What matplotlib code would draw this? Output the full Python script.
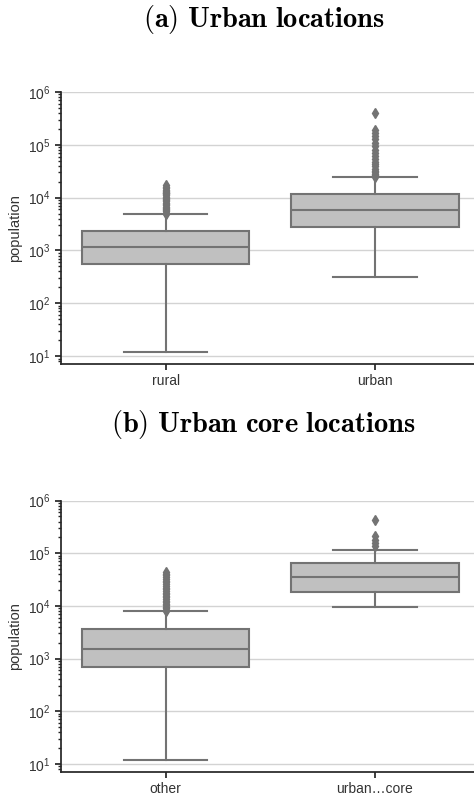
import matplotlib.pyplot as plt

plt.rcParams['font.family'] = ['Liberation Sans', 'DejaVu Sans']
plt.rcParams['mathtext.fontset'] = 'cm'

# summary statistics of population per location class
urban_cats = ['rural', 'urban']
urban_q1 = [560, 2810]
urban_med = [1145, 5820]
urban_q3 = [2330, 11500]
urban_lo = [12, 313]
urban_hi = [4890, 24200]
rural_fliers = [5000, 5200, 5500, 5800, 6100, 6400, 6800, 7200, 7600, 8000,
                8500, 9000, 9500, 10000, 10500, 11000, 11500, 12000, 12500,
                13000, 13500, 14000, 15000, 16000, 17000]
urban_fliers = [25000, 26500, 28000, 30000, 32000, 35000, 39000, 43000, 48000,
                55000, 62000, 70000, 80000, 95000, 110000, 130000, 150000,
                170000, 190000, 400000]

core_cats = ['other', 'urban\u2026core']
core_q1 = [686, 18500]
core_med = [1507, 35600]
core_q3 = [3610, 64800]
core_lo = [11.9, 9700]
core_hi = [7940, 114000]
other_fliers = [8000, 8500, 9000, 9600, 10200, 11000, 11800, 12600, 13500,
                14500, 15500, 16500, 17800, 19000, 20500, 22000, 24000, 26000,
                28000, 30000, 32500, 35000, 38000, 41000, 44000]
core_fliers = [140000, 160000, 180000, 210000, 420000]

fill = '#c0c0c0'
line = '#737373'
ink = '#333333'

fig = plt.figure(figsize=(4.74, 7.99), dpi=100)


def panel(rect, cats, q1, med, q3, lo, hi, fliers):
    ax = fig.add_axes(rect)
    stats = []
    for i in range(len(cats)):
        stats.append(dict(q1=q1[i], med=med[i], q3=q3[i], whislo=lo[i],
                          whishi=hi[i], fliers=fliers[i], label=cats[i]))
    lw = 1.5
    ax.bxp(stats, positions=range(len(cats)), widths=0.8, capwidths=0.4,
           patch_artist=True,
           boxprops=dict(facecolor=fill, edgecolor=line, linewidth=lw),
           medianprops=dict(color=line, linewidth=lw),
           whiskerprops=dict(color=line, linewidth=lw),
           capprops=dict(color=line, linewidth=lw),
           flierprops=dict(marker='d', markersize=5, markerfacecolor=line,
                           markeredgecolor=line))
    ax.set_yscale('log')
    ax.set_ylim(10 ** 0.85, 1e6)
    ax.set_xlim(-0.5, len(cats) - 0.5)
    ax.set_xticks(range(len(cats)))
    ax.set_xticklabels(cats)
    ax.yaxis.grid(True, which='major', color='#d3d3d3', linewidth=1)
    ax.set_axisbelow(True)
    for s in ['top', 'right']:
        ax.spines[s].set_visible(False)
    for s in ['left', 'bottom']:
        ax.spines[s].set_color('#262626')
        ax.spines[s].set_linewidth(1.25)
    ax.tick_params(axis='both', which='major', labelsize=10, colors='#262626',
                   labelcolor=ink, length=4, width=1.25)
    ax.tick_params(axis='y', which='minor', colors='#262626', length=2.5,
                   width=1)
    ax.set_ylabel('population', fontsize=10.5, color=ink, labelpad=4)
    return ax


panel([0.1287, 0.5444, 0.883, 0.3404], urban_cats, urban_q1, urban_med,
      urban_q3, urban_lo, urban_hi, [rural_fliers, urban_fliers])
panel([0.1287, 0.0342, 0.883, 0.3392], core_cats, core_q1, core_med,
      core_q3, core_lo, core_hi, [other_fliers, core_fliers])

fig.text(0.556, 1 - 20 / 799, r'$\mathbf{(a)\ Urban\ locations}$',
         ha='center', va='center', fontsize=20.5)
fig.text(0.556, 1 - 424 / 799, r'$\mathbf{(b)\ Urban\ core\ locations}$',
         ha='center', va='center', fontsize=20.5)

fig.savefig('out.png', dpi=100)
